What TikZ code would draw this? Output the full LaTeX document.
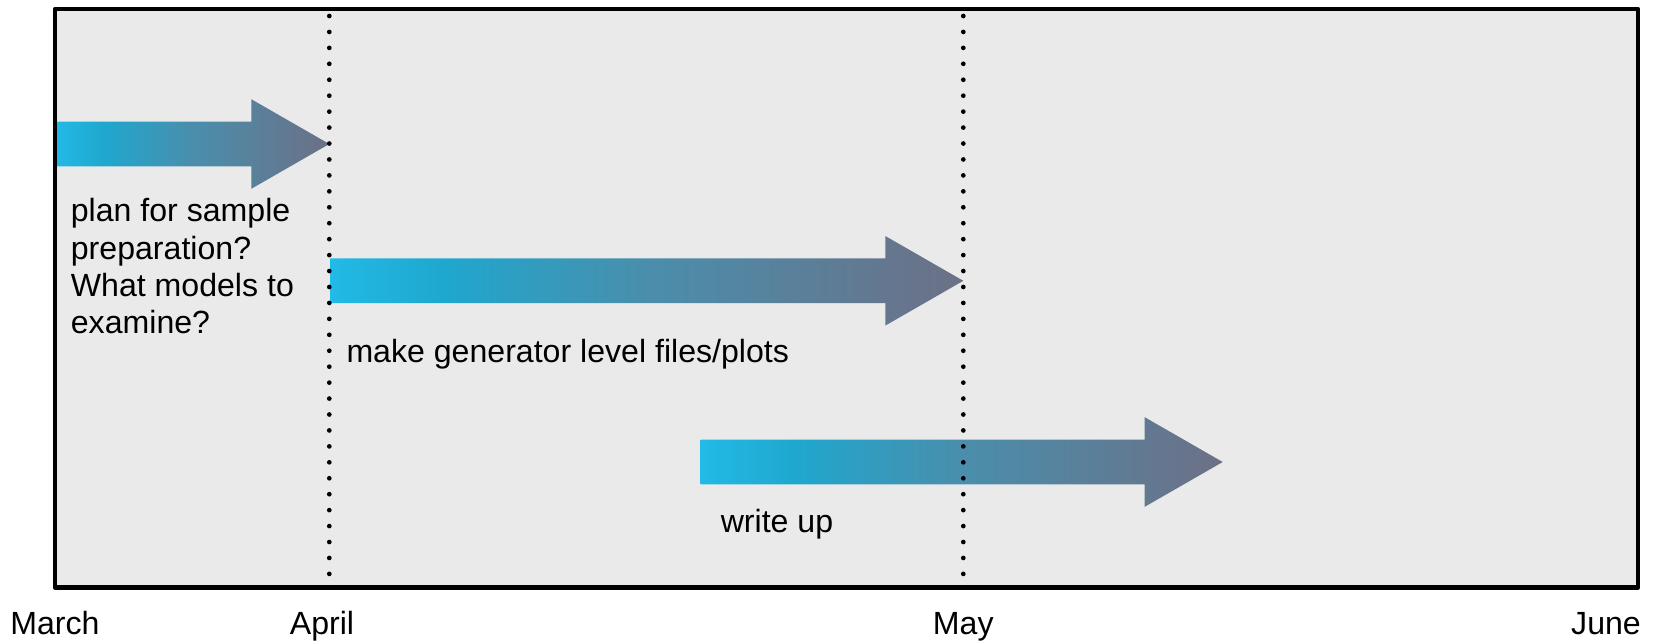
\documentclass[tikz,border=0pt]{standalone}
\usepackage{fontspec}
\setmainfont{Liberation Sans}

\definecolor{panel}{RGB}{234,234,234}
\definecolor{barA}{RGB}{34,186,230}
\definecolor{barB}{RGB}{31,167,206}
\definecolor{barM}{RGB}{74,142,172}
\definecolor{barC}{RGB}{108,112,134}

% cyan-to-slate fill of the task bars
\pgfdeclarehorizontalshading{barshade}{100bp}{%
  color(0bp)=(barA); color(25bp)=(barA); color(34bp)=(barB);
  color(50bp)=(barM); color(75bp)=(barC); color(100bp)=(barC)}

\tikzset{
  label text/.style={inner sep=0pt, font=\fontsize{32.1}{37.3}\selectfont},
  guide/.style={line width=4.7pt, line cap=round, dash pattern=on 0pt off 15.94pt},
  bar/.style={shading=barshade},
  frame line/.style={line width=4.7pt, line join=round},
}

% \taskbar{start x}{tip x}{centre y}: block arrow with a shaded body
\newcommand\taskbar[3]{%
  \path[bar] (#1,#3-22.4) -- (#2-78,#3-22.4) -- (#2-78,#3-44.8) -- (#2,#3)
    -- (#2-78,#3+44.8) -- (#2-78,#3+22.4) -- (#1,#3+22.4) -- cycle;}

\begin{document}
\begin{tikzpicture}[x=1pt, y=-1pt]
  \useasboundingbox (0,0) rectangle (1655,642);

  % panel corners and month guides
  \coordinate (frameNW) at (55,9);
  \coordinate (frameSE) at (1638,587.5);
  \coordinate (aprTop) at (329.3,16);
  \coordinate (aprBot) at (329.3,574);
  \coordinate (mayTop) at (963.3,16);
  \coordinate (mayBot) at (963.3,574);

  \fill[panel] (frameNW) rectangle (frameSE);

  % task bars
  \taskbar{55}{329.3}{144}
  \taskbar{330}{963.3}{280.8}
  \taskbar{700.7}{1222.7}{462}

  % dotted month boundaries
  \draw[guide] (aprTop) -- (aprBot);
  \draw[guide] (mayTop) -- (mayBot);

  \draw[frame line] (frameNW) rectangle (frameSE);

  % task labels (base of a multi-line node is its last line)
  \node[label text, anchor=base west, align=left] (prep) at (70.7,333.6)
    {plan for sample\\preparation?\\What models to\\examine?};
  \node[label text, anchor=base west] (gen) at (346.3,362.7)
    {make generator level files/plots};
  \node[label text, anchor=base west] (write) at (720.6,532.7) {write up};

  % month axis
  \node[label text, anchor=base] (march) at (55,634) {March};
  \node[label text, anchor=base] (april) at (322,634) {April};
  \node[label text, anchor=base] (may) at (963.3,634) {May};
  \node[label text, anchor=base east] (june) at (1641,634) {June};
\end{tikzpicture}
\end{document}
